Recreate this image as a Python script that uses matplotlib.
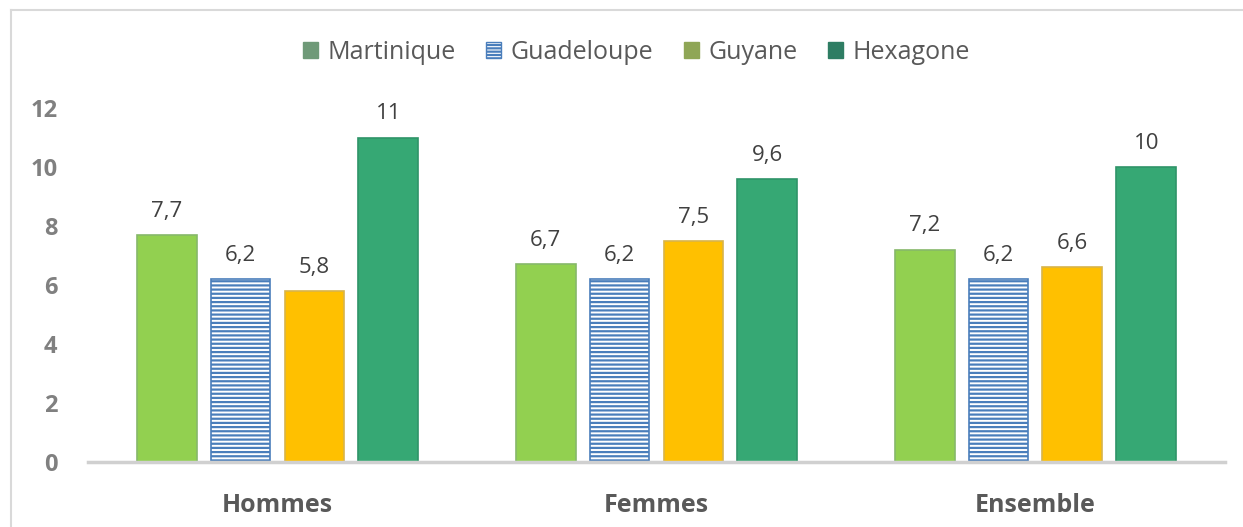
import matplotlib
matplotlib.use('Agg')
from matplotlib import pyplot as plt
from matplotlib.patches import Patch
from matplotlib.lines import Line2D
import numpy as np

categories = ['Hommes', 'Femmes', 'Ensemble']
series = ['Martinique', 'Guadeloupe', 'Guyane', 'Hexagone']
martinique = [7.7, 6.7, 7.2]
guadeloupe = [6.2, 6.2, 6.2]
guyane = [5.8, 7.5, 6.6]
hexagone = [11, 9.6, 10]
yticks = [0, 2, 4, 6, 8, 10, 12]

plt.rcParams['font.family'] = ['Open Sans', 'DejaVu Sans']
plt.rcParams['hatch.linewidth'] = 1.6

fig = plt.figure(figsize=(12.43, 5.27), dpi=100)
ax = fig.add_axes([0.0708, 0.123, 0.9147, 0.672])

x = np.arange(len(categories))
step = 0.195
width = 0.158
values = [martinique, guadeloupe, guyane, hexagone]
faces = ['#92d050', 'white', '#ffc000', '#36a874']
edges = ['#86b86a', '#4a7ebb', '#d8b44a', '#2f9468']
hatches = [None, '----', None, None]

for i, vals in enumerate(values):
    pos = x + (i - 1.5) * step
    bars = ax.bar(pos, vals, width, color=faces[i], edgecolor=edges[i],
                  linewidth=1.2, hatch=hatches[i], zorder=2)
    for b, v in zip(bars, vals):
        lbl = f'{v:g}'.replace('.', ',')
        ax.text(b.get_x() + b.get_width() / 2, v + 0.45, lbl, ha='center',
                va='bottom', fontsize=16, color='#404040')

ax.set_xlim(-0.5, 2.5)
ax.set_ylim(0, 12)
ax.set_yticks(yticks)
ax.set_yticklabels([str(t) for t in yticks], fontsize=17, fontweight='bold', color='#808080')
ax.set_xticks(x)
ax.set_xticklabels(categories, fontsize=18, fontweight='bold', color='#595959')
ax.tick_params(axis='both', length=0)
ax.tick_params(axis='y', pad=22)
ax.tick_params(axis='x', pad=22)
for s in ['top', 'right', 'left']:
    ax.spines[s].set_visible(False)
ax.spines['bottom'].set_color('#d0d0d0')
ax.spines['bottom'].set_linewidth(2.5)

handles = [
    Patch(facecolor='#6f9a78', edgecolor='#6f9a78'),
    Patch(facecolor='white', edgecolor='#4a7ebb', hatch='-----'),
    Patch(facecolor='#8fa656', edgecolor='#8fa656'),
    Patch(facecolor='#2e7d63', edgecolor='#2e7d63'),
]
leg = fig.legend(handles, series, loc='center', bbox_to_anchor=(0.512, 0.9),
                 ncol=4, frameon=False, fontsize=18, handlelength=0.6,
                 handleheight=0.6, handletextpad=0.4, columnspacing=1.2)
for t in leg.get_texts():
    t.set_color('#595959')

# outer chart frame (cropped on the right and bottom)
fig.add_artist(Line2D([11 / 1243, 11 / 1243], [0, 1 - 10 / 527], color='#d9d9d9', lw=1.5))
fig.add_artist(Line2D([11 / 1243, 1], [1 - 10 / 527, 1 - 10 / 527], color='#d9d9d9', lw=1.5))

fig.savefig('out.png', dpi=100)
